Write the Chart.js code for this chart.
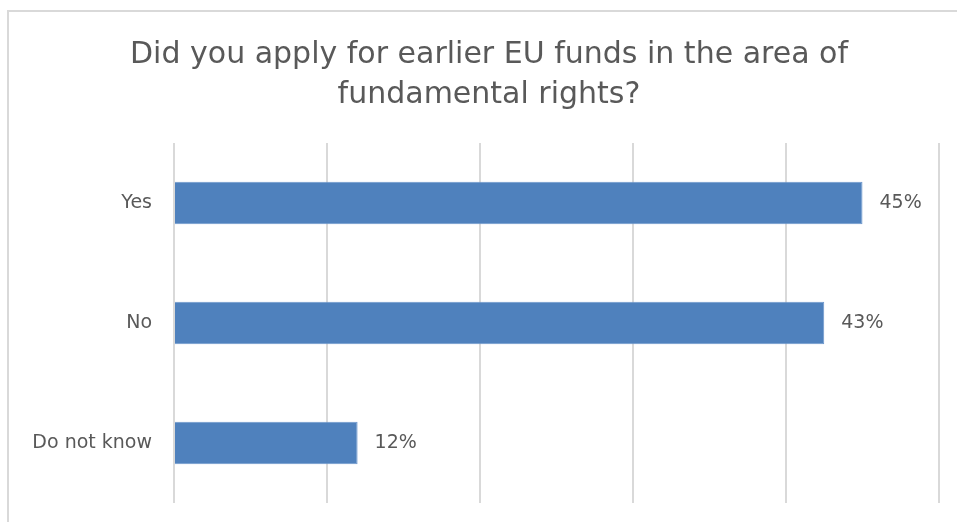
<!DOCTYPE html>
<html>
<head>
<meta charset="utf-8">
<script src="https://cdn.jsdelivr.net/npm/chart.js@4/dist/chart.umd.min.js"></script>
<style>
  html, body { margin: 0; padding: 0; background: #fff; }
  #wrap { width: 957px; height: 522px; position: relative; }
</style>
</head>
<body>
<div id="wrap"><canvas id="fundsChart" width="957" height="522"></canvas></div>
<script>
const categories = ['Yes', 'No', 'Do not know'];
const shares = [45, 42.5, 12];
const titleLines = ['Did you apply for earlier EU funds in the area of', 'fundamental rights?'];

const FONT = "'DejaVu Sans', 'Open Sans', sans-serif";
const GREY_TEXT = '#595959';

// outer frame like the exported office chart (clipped at right / bottom)
const framePlugin = {
    id: 'frame',
    beforeDraw(chart) {
        const ctx = chart.ctx;
        ctx.save();
        ctx.fillStyle = '#fff';
        ctx.fillRect(0, 0, chart.width, chart.height);
        ctx.strokeStyle = '#d9d9d9';
        ctx.lineWidth = 2;
        ctx.strokeRect(8, 11, 1000, 600);
        ctx.restore();
    }
};

// two-line title, centred a little right of the canvas middle like the original
const titlePlugin = {
    id: 'bigTitle',
    afterDraw(chart) {
        const ctx = chart.ctx;
        ctx.save();
        ctx.font = '30px ' + FONT;
        ctx.fillStyle = GREY_TEXT;
        ctx.textAlign = 'center';
        ctx.textBaseline = 'alphabetic';
        titleLines.forEach(function (line, i) {
            ctx.fillText(line, 489, 63 + i * 40);
        });
        ctx.restore();
    }
};

// percentage labels after the bar ends
const valueLabels = {
    id: 'valueLabels',
    afterDatasetsDraw(chart) {
        const ctx = chart.ctx;
        const meta = chart.getDatasetMeta(0);
        ctx.save();
        ctx.font = '19px ' + FONT;
        ctx.fillStyle = GREY_TEXT;
        ctx.textAlign = 'left';
        ctx.textBaseline = 'middle';
        meta.data.forEach(function (bar, i) {
            ctx.fillText(Math.round(shares[i]) + '%', bar.x + 17, bar.y);
        });
        ctx.restore();
    }
};

function noEdgePadding(scale) {
    scale.paddingTop = 0;
    scale.paddingBottom = 0;
    scale.paddingLeft = 0;
    scale.paddingRight = 0;
}

new Chart(document.getElementById('fundsChart').getContext('2d'), {
    type: 'bar',
    data: {
        labels: categories,
        datasets: [{
            data: shares,
            backgroundColor: '#4f81bd',
            borderColor: '#6b96cc',
            borderWidth: 1,
            categoryPercentage: 1,
            barPercentage: 0.355
        }]
    },
    options: {
        indexAxis: 'y',
        responsive: false,
        animation: false,
        layout: { padding: { left: 0, right: 18, top: 143, bottom: 19 } },
        plugins: {
            legend: { display: false },
            tooltip: { enabled: false },
            title: { display: false }
        },
        scales: {
            x: {
                min: 0,
                max: 50,
                afterFit: function (scale) { scale.height = 0; noEdgePadding(scale); },
                ticks: { display: false, stepSize: 10 },
                grid: { color: '#d9d9d9', lineWidth: 2, drawTicks: false },
                border: { display: false }
            },
            y: {
                afterFit: function (scale) { scale.width = 174; noEdgePadding(scale); },
                ticks: {
                    color: GREY_TEXT,
                    padding: 22,
                    font: { family: FONT, size: 19 }
                },
                grid: { display: false, drawTicks: false },
                border: { display: false }
            }
        }
    },
    plugins: [framePlugin, titlePlugin, valueLabels]
});
</script>
</body>
</html>
